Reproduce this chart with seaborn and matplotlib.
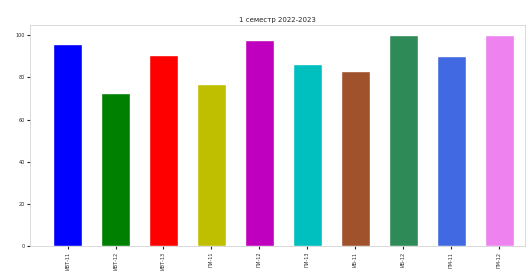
import matplotlib
matplotlib.use("Agg")
import matplotlib.pyplot as plt
import seaborn as sns
import pandas as pd

groups = ["ИВТ-11", "ИВТ-12", "ИВТ-13", "ПИ-11", "ПИ-12", "ПИ-13", "ИБ-11", "ИБ-12", "ПМ-11", "ПМ-12"]
values = [96, 72.5, 90.5, 77, 98, 86.5, 83, 100, 90, 100]
colors = ["blue", "green", "red", "y", "m", "c", "sienna", "seagreen", "royalblue", "violet"]

df = pd.DataFrame({"group": groups, "value": values})

sns.set_style("white")
fig = plt.figure(figsize=(5.28, 2.75), dpi=100)
ax = sns.barplot(data=df, x="group", y="value", hue="group", palette=colors,
                 width=0.6, saturation=1, legend=False)
ax.set_xlim(-0.78, 9.53)
ax.set_ylim(0, 105)
ax.set_yticks([0, 20, 40, 60, 80, 100])
ax.set_xlabel("")
ax.set_ylabel("")
ax.set_title("1 семестр 2022-2023", fontsize=5, pad=2)
ax.tick_params(axis="x", labelsize=3.5, rotation=90, length=2, pad=2, bottom=True)
ax.tick_params(axis="y", labelsize=3.5, length=2, pad=2, left=True)
for s in ax.spines.values():
    s.set_linewidth(0.5)
    s.set_color("#cccccc")
fig.subplots_adjust(left=0.057, right=0.994, top=0.91, bottom=0.105)
fig.savefig("out.png", dpi=100)
